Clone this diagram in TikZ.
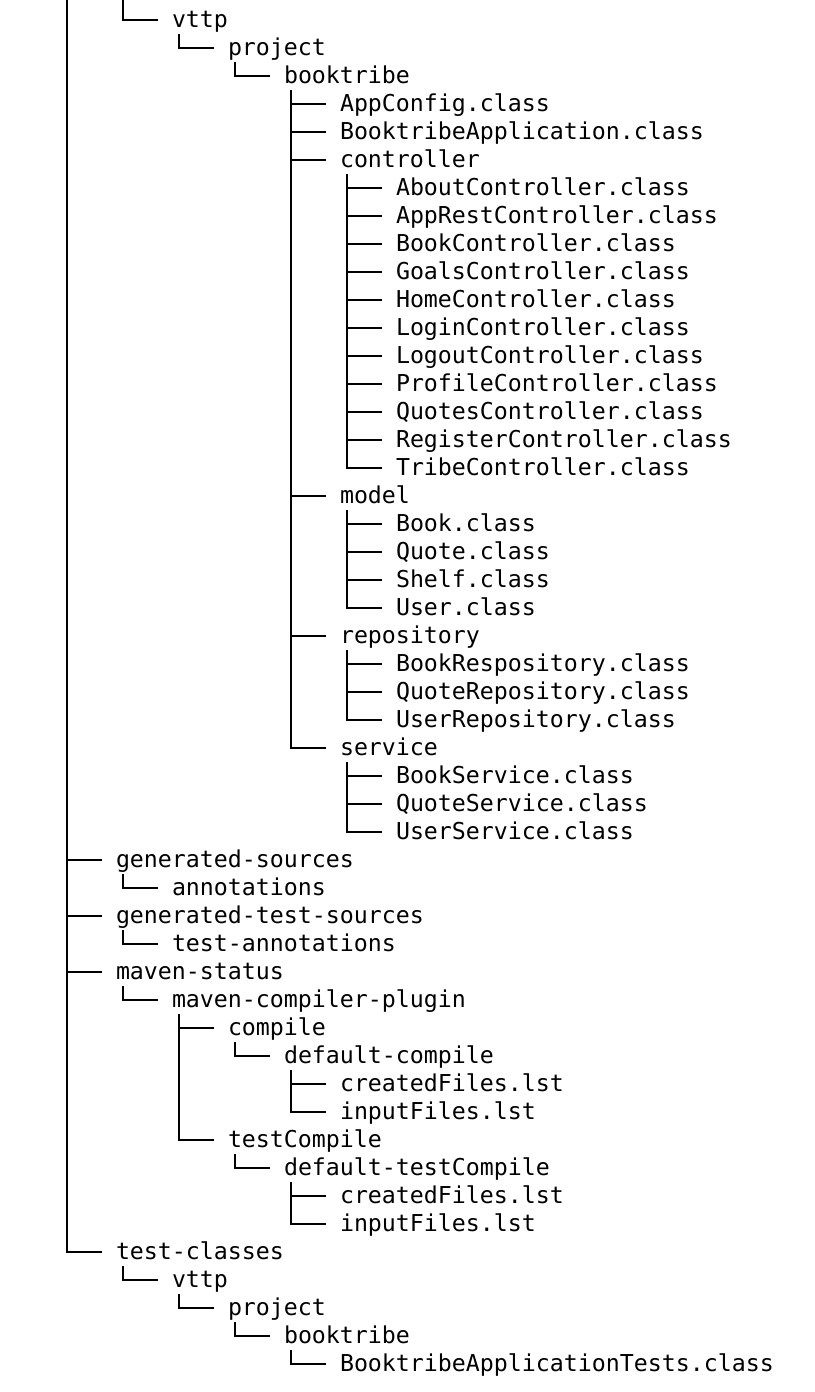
\documentclass[tikz,border=0pt]{standalone}
\usepackage{fontspec}
\setmonofont{DejaVu Sans Mono}
\begin{document}
\begin{tikzpicture}[x=1pt,y=-1pt,
  e/.style={anchor=west,inner sep=0pt,outer sep=0pt,text height=21.5pt,text depth=6.5pt,
    font=\ttfamily\fontsize{23.25}{28}\selectfont,text=black},
  br/.style={draw=black,line width=1.8pt}]
\useasboundingbox[fill=white] (0,0) rectangle (814,1392);
\coordinate (rootv) at (67,0);
\coordinate (classesv) at (123,0);
% upper part
\node[e] (vttpA) at (172,20) {vttp};
\node[e] (projA) at (228,48) {project};
\node[e] (btA) at (284,76) {booktribe};
\node[e] (appcfg) at (340,104) {AppConfig.class};
\node[e] (btapp) at (340,132) {BooktribeApplication.class};
\node[e] (ctrl) at (340,160) {controller};
\node[e] (c1) at (396,188) {AboutController.class};
\node[e] (c2) at (396,216) {AppRestController.class};
\node[e] (c3) at (396,244) {BookController.class};
\node[e] (c4) at (396,272) {GoalsController.class};
\node[e] (c5) at (396,300) {HomeController.class};
\node[e] (c6) at (396,328) {LoginController.class};
\node[e] (c7) at (396,356) {LogoutController.class};
\node[e] (c8) at (396,384) {ProfileController.class};
\node[e] (c9) at (396,412) {QuotesController.class};
\node[e] (c10) at (396,440) {RegisterController.class};
\node[e] (c11) at (396,468) {TribeController.class};
\node[e] (model) at (340,496) {model};
\node[e] (m1) at (396,524) {Book.class};
\node[e] (m2) at (396,552) {Quote.class};
\node[e] (m3) at (396,580) {Shelf.class};
\node[e] (m4) at (396,608) {User.class};
\node[e] (repo) at (340,636) {repository};
\node[e] (r1) at (396,664) {BookRespository.class};
\node[e] (r2) at (396,692) {QuoteRepository.class};
\node[e] (r3) at (396,720) {UserRepository.class};
\node[e] (serv) at (340,748) {service};
\node[e] (s1) at (396,776) {BookService.class};
\node[e] (s2) at (396,804) {QuoteService.class};
\node[e] (s3) at (396,832) {UserService.class};
% root level
\node[e] (gen) at (116,860) {generated-sources};
\node[e] (ann) at (172,888) {annotations};
\node[e] (gents) at (116,916) {generated-test-sources};
\node[e] (tann) at (172,944) {test-annotations};
\node[e] (mvn) at (116,972) {maven-status};
\node[e] (mcp) at (172,1000) {maven-compiler-plugin};
\node[e] (comp) at (228,1028) {compile};
\node[e] (dcomp) at (284,1056) {default-compile};
\node[e] (cf1) at (340,1084) {createdFiles.lst};
\node[e] (if1) at (340,1112) {inputFiles.lst};
\node[e] (tcomp) at (228,1140) {testCompile};
\node[e] (dtcomp) at (284,1168) {default-testCompile};
\node[e] (cf2) at (340,1196) {createdFiles.lst};
\node[e] (if2) at (340,1224) {inputFiles.lst};
\node[e] (tc) at (116,1252) {test-classes};
\node[e] (vttpB) at (172,1280) {vttp};
\node[e] (projB) at (228,1308) {project};
\node[e] (btB) at (284,1336) {booktribe};
\node[e] (btt) at (340,1364) {BooktribeApplicationTests.class};
% connectors from off-picture parents
\foreach \c in {gen,gents,mvn,tc}
  \draw[br] (rootv) |- ([xshift=-14pt]\c.west);
\draw[br] (classesv) |- ([xshift=-14pt]vttpA.west);
% connectors
\foreach \p/\c in {vttpA/projA,projA/btA,
  btA/appcfg,btA/btapp,btA/ctrl,btA/model,btA/repo,btA/serv,
  ctrl/c1,ctrl/c2,ctrl/c3,ctrl/c4,ctrl/c5,ctrl/c6,ctrl/c7,ctrl/c8,ctrl/c9,ctrl/c10,ctrl/c11,
  model/m1,model/m2,model/m3,model/m4,
  repo/r1,repo/r2,repo/r3,
  serv/s1,serv/s2,serv/s3,
  gen/ann,gents/tann,mvn/mcp,mcp/comp,mcp/tcomp,comp/dcomp,dcomp/cf1,dcomp/if1,
  tcomp/dtcomp,dtcomp/cf2,dtcomp/if2,
  tc/vttpB,vttpB/projB,projB/btB,btB/btt}
  \draw[br] ([xshift=7pt]\p.south west) |- ([xshift=-14pt]\c.west);
\end{tikzpicture}
\end{document}
